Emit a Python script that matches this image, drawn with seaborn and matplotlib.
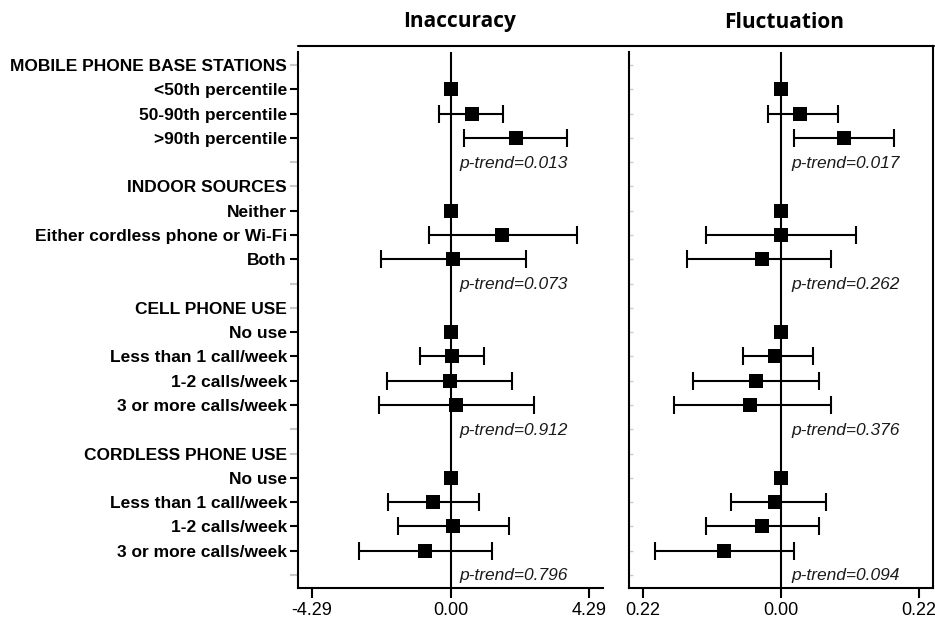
import numpy as np
import pandas as pd
import matplotlib
matplotlib.use("Agg")
import matplotlib.pyplot as plt
import seaborn as sns
from matplotlib.lines import Line2D

# ---------------- data ----------------
groups = ["MOBILE PHONE BASE STATIONS", "INDOOR SOURCES",
          "CELL PHONE USE", "CORDLESS PHONE USE"]
levels = [
    ["<50th percentile", "50-90th percentile", ">90th percentile"],
    ["Neither", "Either cordless phone or Wi-Fi", "Both"],
    ["No use", "Less than 1 call/week", "1-2 calls/week", "3 or more calls/week"],
    ["No use", "Less than 1 call/week", "1-2 calls/week", "3 or more calls/week"],
]

# Inaccuracy: estimate, lower, upper (reference category has no CI)
inacc_est = [[0.00, 0.65, 2.03], [0.00, 1.60, 0.09],
             [0.00, 0.04, -0.03, 0.18], [0.00, -0.55, 0.09, -0.78]]
inacc_lo = [[np.nan, -0.37, 0.43], [np.nan, -0.68, -2.15],
            [np.nan, -0.94, -1.96, -2.22], [np.nan, -1.94, -1.61, -2.84]]
inacc_hi = [[np.nan, 1.64, 3.62], [np.nan, 3.91, 2.35],
            [np.nan, 1.03, 1.91, 2.58], [np.nan, 0.88, 1.81, 1.28]]

# Fluctuation
fluct_est = [[0.000, 0.031, 0.100], [0.000, 0.000, -0.030],
             [0.000, -0.009, -0.040, -0.049], [0.000, -0.009, -0.030, -0.090]]
fluct_lo = [[np.nan, -0.020, 0.020], [np.nan, -0.120, -0.149],
            [np.nan, -0.060, -0.140, -0.170], [np.nan, -0.079, -0.120, -0.200]]
fluct_hi = [[np.nan, 0.091, 0.180], [np.nan, 0.120, 0.080],
            [np.nan, 0.051, 0.061, 0.080], [np.nan, 0.071, 0.061, 0.020]]

p_trend_inacc = ["0.013", "0.073", "0.912", "0.796"]
p_trend_fluct = ["0.017", "0.262", "0.376", "0.094"]

titles = ["Inaccuracy", "Fluctuation"]
inacc_ticks = [-4.29, 0.00, 4.29]
inacc_ticklabels = ["-4.29", "0.00", "4.29"]
fluct_ticks = [-0.22, 0.00, 0.22]
fluct_ticklabels = ["0.22", "0.00", "0.22"]

# ---------------- build long table ----------------
records, labels, kinds, ptrend_rows = [], [], [], []
r = 0
for gi, g in enumerate(groups):
    labels.append(g); kinds.append("header"); r += 1
    for li, lev in enumerate(levels[gi]):
        records.append(dict(row=r, group=g, level=lev,
                            inacc=inacc_est[gi][li], inacc_lo=inacc_lo[gi][li],
                            inacc_hi=inacc_hi[gi][li],
                            fluct=fluct_est[gi][li], fluct_lo=fluct_lo[gi][li],
                            fluct_hi=fluct_hi[gi][li]))
        labels.append(lev); kinds.append("item"); r += 1
    labels.append(""); kinds.append("blank"); ptrend_rows.append(r); r += 1
df = pd.DataFrame(records)
nrows = len(labels)

# ---------------- figure ----------------
sns.set_theme(style="white")
plt.rcParams['font.family'] = ['Liberation Sans', 'DejaVu Sans']
plt.rcParams['text.color'] = 'black'
plt.rcParams['xtick.labelcolor'] = 'black'
plt.rcParams['ytick.labelcolor'] = 'black'

W, H = 935, 621
fig = plt.figure(figsize=(W / 100, H / 100), dpi=100)
top_px, bot_px = 46, 588
axL = fig.add_axes([298 / W, 1 - bot_px / H, (603 - 298) / W, (bot_px - top_px) / H])
axR = fig.add_axes([629 / W, 1 - bot_px / H, (933 - 629) / W, (bot_px - top_px) / H])

row_h = (575 - 65) / 21.0
y_top = -(65 - top_px) / row_h
y_bot = 21 + (bot_px - 575) / row_h
y_spine_top = -(65 - 52) / row_h

panels = [
    (axL, "inacc", 4.29 * 1.1, inacc_ticks, inacc_ticklabels, p_trend_inacc, 0.28, 0.53),
    (axR, "fluct", 0.22 * 1.1, fluct_ticks, fluct_ticklabels, p_trend_fluct, 0.016, 0.51),
]

for i, (ax, col, lim, ticks, tlabels, ptr, pxoff, tx) in enumerate(panels):
    sub = df.dropna(subset=[col + "_lo"])
    ax.errorbar(sub[col], sub["row"],
                xerr=[sub[col] - sub[col + "_lo"], sub[col + "_hi"] - sub[col]],
                fmt="none", ecolor="black", elinewidth=1.5, capsize=6.5,
                capthick=1.5, zorder=2)
    ax.vlines(0, y_spine_top, y_bot, color="black", lw=1.5, zorder=1)
    sns.scatterplot(data=df, x=col, y="row", marker="s", s=95, color="black",
                    linewidth=0, ax=ax, zorder=3, legend=False)
    for pr, txt in zip(ptrend_rows, ptr):
        ax.text(pxoff, pr + 0.04, f"p-trend={txt}", style="italic", fontsize=12.5,
                va="center", ha="left", color="#1a1a1a")
    ax.set_xlim(-lim, lim)
    ax.set_ylim(y_bot, y_top)
    ax.set_xlabel(""); ax.set_ylabel("")
    ax.set_xticks(ticks)
    ax.set_xticklabels(tlabels, fontsize=13)
    ax.tick_params(axis="x", direction="out", length=7, width=1.5,
                   color="black", labelcolor="black", pad=3, bottom=True)
    for s in ["top", "right", "left", "bottom"]:
        ax.spines[s].set_color("black")
        ax.spines[s].set_linewidth(1.5)
    ax.spines["top"].set_visible(False)
    ax.spines["left"].set_bounds(y_bot, y_spine_top)
    if i == 0:
        ax.spines["right"].set_visible(False)
        ax.set_yticks(range(nrows))
        ax.set_yticklabels(labels, fontsize=12.5, fontweight="bold", color="black")
        ax.tick_params(axis="y", direction="out", length=6, width=1.5,
                       pad=2, left=True, color="black")
        for tk, kind in zip(ax.yaxis.get_major_ticks(), kinds):
            c = "black" if kind == "item" else "#c8c8c8"
            tk.tick1line.set_markeredgecolor(c)
            tk.tick1line.set_color(c)
    else:
        ax.set_yticks(range(nrows))
        ax.set_yticklabels([])
        ax.tick_params(axis="y", direction="in", length=3, width=1,
                       color="#cccccc", left=True)
    ax.text(tx, 1.0 + 24 / (bot_px - top_px), titles[i], transform=ax.transAxes,
            fontsize=15, fontweight="bold", fontfamily="Open Sans",
            ha="center", va="center", color="black")

# top rule across both panels
fig.add_artist(Line2D([298 / W, 934 / W], [1 - top_px / H, 1 - top_px / H],
                      color="black", lw=1.5, transform=fig.transFigure))

fig.savefig("out.png", dpi=100)
